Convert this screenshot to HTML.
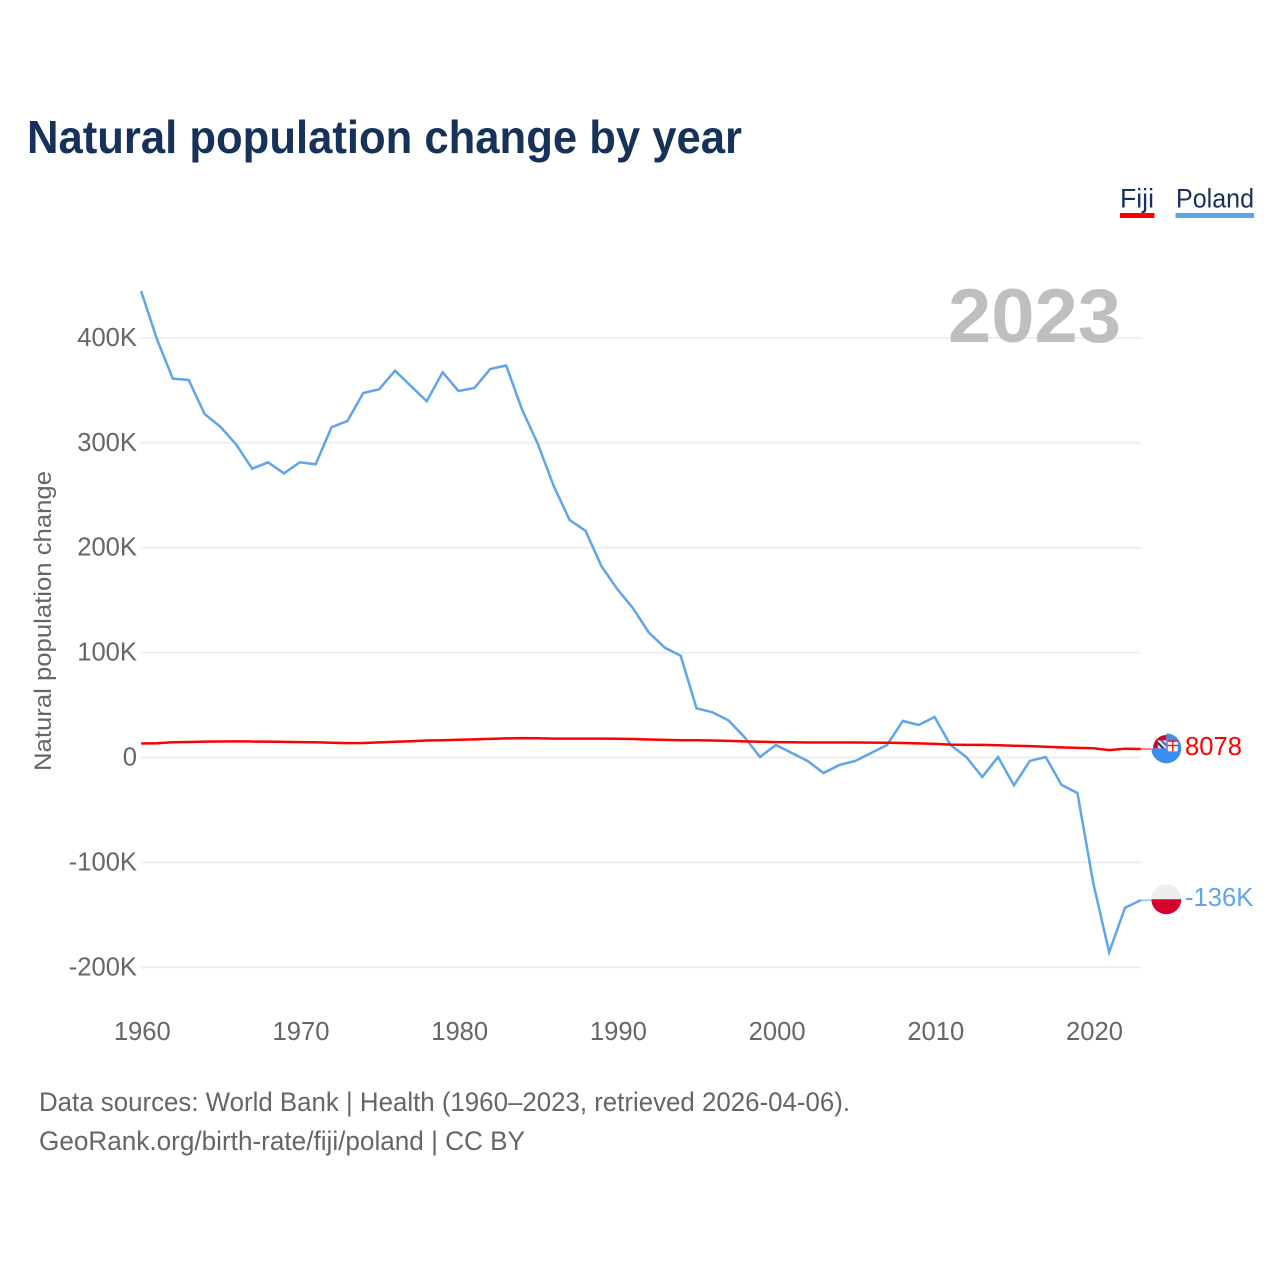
<!DOCTYPE html>
<html lang="en">
<head>
<meta charset="utf-8">
<title>Natural population change by year</title>
<style>
html,body{margin:0;padding:0;background:#fff;width:1280px;height:1280px;overflow:hidden}
svg{display:block}
text{font-family:"Liberation Sans",sans-serif}
</style>
</head>
<body>
<svg id="chart" width="1280" height="1280" viewBox="0 0 1280 1280" xmlns="http://www.w3.org/2000/svg">
  <defs>
    <clipPath id="flag-clip"><circle cx="0" cy="0" r="15"></circle></clipPath>
  </defs>
  <text x="27" y="153" font-size="46" font-weight="700" fill="#17325a" textLength="715" lengthAdjust="spacingAndGlyphs">Natural population change by year</text>

  <g>
    <g>
      <text x="1120" y="207.500" font-size="26.5" fill="#17325a" textLength="34" lengthAdjust="spacingAndGlyphs">Fiji</text>
      <rect x="1120" y="213" width="34.5" height="5" fill="#ff0000"></rect>
    </g>
    <g>
      <text x="1176" y="207.500" font-size="26.5" fill="#17325a" textLength="78" lengthAdjust="spacingAndGlyphs">Poland</text>
      <rect x="1175.500" y="213" width="78.500" height="5" fill="#5ea5ee"></rect>
    </g>
  </g>

  <text transform="translate(51,771) rotate(-90)" font-size="24.5" fill="#666666" textLength="300" lengthAdjust="spacingAndGlyphs">Natural population change</text>

  <g id="grid"></g>
  <text x="948" y="342" font-size="76" font-weight="700" fill="#bfbfbf" textLength="173" lengthAdjust="spacingAndGlyphs">2023</text>
  <g id="y-ticks"></g>
  <g id="x-ticks"></g>
  <g id="series"></g>
  <g id="end-markers"></g>

  <g>
    <text x="39" y="1111" font-size="26.500" fill="#666666" textLength="811" lengthAdjust="spacingAndGlyphs">Data sources: World Bank | Health (1960–2023, retrieved 2026-04-06).</text>
    <text x="39" y="1150" font-size="26.500" fill="#666666" textLength="486" lengthAdjust="spacingAndGlyphs">GeoRank.org/birth-rate/fiji/poland | CC BY</text>
  </g>
</svg>
<script>
var startYear = 1960;
var xTickYears = [1960, 1970, 1980, 1990, 2000, 2010, 2020];
var yTickValues = [400, 300, 200, 100, 0, -100, -200];
var yTickLabels = ["400K", "300K", "200K", "100K", "0", "-100K", "-200K"];
var polandValues = [444.7, 398.7, 361.1, 359.9, 327.5, 315.3, 298.2, 275.3, 281.4, 270.9,
  281.4, 279.5, 314.8, 320.8, 347.5, 351, 368.7, 354.1, 339.6, 367.2,
  349.4, 352.2, 370.3, 373.7, 331.9, 298.9, 258.8, 226.4, 216.2, 182.6,
  160.6, 142.2, 119, 104.7, 97, 46.9, 43.1, 35.5, 19.8, 0.5,
  11.9, 4.3, -3.3, -14.8, -7.1, -3.3, 4.3, 11.9, 34.8, 31,
  38.6, 11.9, 0.5, -18.6, 0.5, -26.5, -3.3, 0.5, -26.2, -33.8,
  -119.9, -185.7, -143.2, -136];
var fijiValues = [13.4, 13.6, 14.5, 14.8, 15.1, 15.3, 15.4, 15.2, 15.1, 14.9,
  14.7, 14.5, 14.1, 13.7, 13.8, 14.4, 15, 15.5, 16.2, 16.5,
  16.9, 17.3, 17.8, 18.2, 18.5, 18.4, 18, 18, 18, 18,
  17.9, 17.6, 17.2, 16.8, 16.5, 16.4, 16.2, 15.8, 15.4, 15,
  14.7, 14.5, 14.3, 14.3, 14.3, 14.3, 14.2, 14.1, 13.8, 13.5,
  13, 12.3, 12, 12, 11.7, 11.2, 10.8, 10.3, 9.7, 9.2,
  8.8, 7, 8.4, 8.078];
var fijiEndLabel = "8078";
var polandEndLabel = "-136K";

var NS = "http://www.w3.org/2000/svg";
function xScale(year) { return 141.1 + (year - 1960) * 15.87; }
function yScale(k) { return 757.5 - k * 1.049; }
function make(tag, attrs, parent) {
  var el = document.createElementNS(NS, tag);
  for (var key in attrs) { el.setAttribute(key, attrs[key]); }
  parent.appendChild(el);
  return el;
}
function linePath(values) {
  return values.map(function (v, i) {
    return (i ? "L" : "M") + xScale(startYear + i).toFixed(2) + " " + yScale(v).toFixed(2);
  }).join(" ");
}

var gridGroup = document.getElementById("grid");
var yTickGroup = document.getElementById("y-ticks");
var xTickGroup = document.getElementById("x-ticks");
var seriesGroup = document.getElementById("series");
var markerGroup = document.getElementById("end-markers");
var axisRight = xScale(startYear + polandValues.length - 1);

yTickValues.forEach(function (v, i) {
  var gridLine = make("line", { x1: 141, x2: axisRight, y1: yScale(v), y2: yScale(v), stroke: "#eeeeee", "stroke-width": 2 }, gridGroup);
  
  
  var tick = make("text", { x: 137, y: yScale(v) + 8, "text-anchor": "end", "font-size": 25.6, fill: "#666666" }, yTickGroup);
  
  
  tick.textContent = yTickLabels[i];
});

xTickYears.forEach(function (year) {
  var tick = make("text", { x: xScale(year) + 1.2, y: 1040, "text-anchor": "middle", "font-size": 25.6, fill: "#666666" }, xTickGroup);
  
  
  tick.textContent = String(year);
});

var polandLine = make("path", { d: linePath(polandValues), fill: "none", stroke: "#5ea5ee", "stroke-width": 2.5, "stroke-linejoin": "miter" }, seriesGroup);


var fijiLine = make("path", { d: linePath(fijiValues), fill: "none", stroke: "#ff0000", "stroke-width": 2.5 }, seriesGroup);



var fijiLast = yScale(fijiValues[fijiValues.length - 1]);
var polandLast = yScale(polandValues[polandValues.length - 1]);

var fijiConnector = make("line", { x1: axisRight, x2: 1151, y1: fijiLast, y2: fijiLast, stroke: "#ff0000", "stroke-width": 1 }, markerGroup);


var polandConnector = make("line", { x1: axisRight, x2: 1151, y1: polandLast, y2: polandLast, stroke: "#5ea5ee", "stroke-width": 1 }, markerGroup);



// Fiji flag marker
var fijiFlag = make("g", { transform: "translate(1166.3," + (fijiLast - 0.7) + ")" }, markerGroup);


make("path", { d: "M0 0 V-15 A15 15 0 1 1 -15 0 Z", fill: "#3a8ef0" }, fijiFlag);
make("path", { d: "M0 0 V-13.300 A13.300 13.300 0 0 0 -13.300 0 Z", fill: "#d0052e" }, fijiFlag);
make("rect", { x: -8.5, y: -8, width: 8.5, height: 8, fill: "#e9e9ef" }, fijiFlag);
make("path", { d: "M-8.5 -7 L-1.500 0 L-4.500 0 L-8.500 -4 Z", fill: "#27386e" }, fijiFlag);
make("path", { d: "M-6.500 -8 L0 -1.500 L0 -4.500 L-3.500 -8 Z", fill: "#5a6a94" }, fijiFlag);
make("rect", { x: 1.5, y: -8, width: 10, height: 11, rx: 1, fill: "#f7f7f7" }, fijiFlag);
make("rect", { x: 1.5, y: -8, width: 10, height: 1.5, fill: "#e8141e" }, fijiFlag);
make("rect", { x: 5.8, y: -8, width: 1.4, height: 11, fill: "#e8141e" }, fijiFlag);
make("rect", { x: 1.5, y: -3.5, width: 10, height: 1.3, fill: "#e8141e" }, fijiFlag);

// Poland flag marker
var polandFlag = make("g", { transform: "translate(1166.3," + (polandLast - 0.9) + ")", "clip-path": "url(#flag-clip)" }, markerGroup);


make("rect", { x: -15, y: -15, width: 30, height: 15, fill: "#eeeeee" }, polandFlag);
make("rect", { x: -15, y: 0, width: 30, height: 15, fill: "#d9002c" }, polandFlag);

var fijiLabel = make("text", { x: 1185, y: fijiLast + 6, "font-size": 25.6, fill: "#ff0000" }, markerGroup);


fijiLabel.textContent = fijiEndLabel;
var polandLabel = make("text", { x: 1185, y: polandLast + 6, "font-size": 25.6, fill: "#5ea5ee" }, markerGroup);


polandLabel.textContent = polandEndLabel;
</script>
</body>
</html>
